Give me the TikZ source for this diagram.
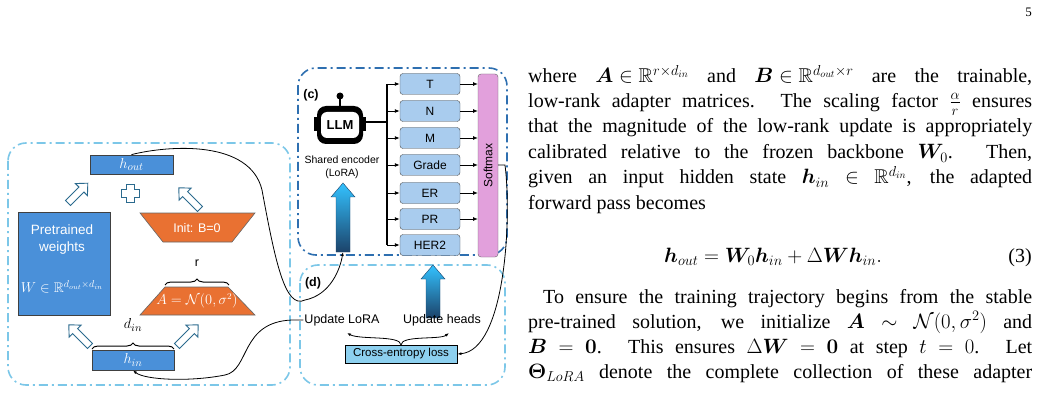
\documentclass[tikz,border=0pt]{standalone}
\usepackage{amsmath,amssymb,bm}
\usepackage{fontspec}
\setmainfont{Liberation Serif}
\newfontfamily\dsans{Liberation Sans}
\usetikzlibrary{decorations.pathreplacing,arrows.meta,shapes.geometric}
\definecolor{lb}{HTML}{7CC7E8}
\definecolor{db}{HTML}{2E6FB0}
\definecolor{bb}{HTML}{4A90D9}
\definecolor{orng}{HTML}{E97132}
\definecolor{head}{HTML}{A9CCEE}
\definecolor{pink}{HTML}{E2A0DC}
\definecolor{ce}{HTML}{8DD0EF}
\definecolor{hol}{HTML}{2B6A8E}
\tikzset{
 dd/.style={line width=1.6pt,dash pattern=on 9pt off 4pt on 2pt off 4pt,rounded corners=18pt},
 blk/.style={draw=black!75,fill=bb,line width=0.8pt,text=white,font=\dsans},
 hd/.style={draw=black!70,fill=head,rounded corners=3pt,minimum width=60pt,minimum height=21pt,font=\dsans\fontsize{12}{12}\selectfont,inner sep=0pt},
 ar/.style={-{Latex[length=5pt,width=4pt]},line width=0.9pt},
 hollow/.style={draw=hol,fill=white,line width=0.9pt},
 txt/.style={anchor=base west,inner sep=0pt,font=\fontsize{20}{22}\selectfont},
 lab/.style={font=\dsans\fontsize{12.5}{13}\selectfont,inner sep=1pt},
}
\newcommand{\hollowarrow}[3]{% start, canvas angle, length
 \begin{scope}[shift={#1},rotate=#2]
 \path[hollow] (0,-3.5) -- (#3-9,-3.5) -- (#3-9,-8.5) -- (#3,0) -- (#3-9,8.5) -- (#3-9,3.5) -- (0,3.5) -- cycle;
 \end{scope}}
\newcommand{\gradarrow}[3]{% x, ybottom, ytop
 \shade[top color=cyan!70!blue!80,bottom color=db!60!black,draw=db!60!black,line width=0.4pt]
 (#1-7,#2) -- (#1-7,#3+14) -- (#1-12,#3+14) -- (#1,#3) -- (#1+12,#3+14) -- (#1+7,#3+14) -- (#1+7,#2) -- cycle;}
\newcommand{\tl}[2]{\node[txt] at (528,#1) {\makebox[504pt][s]{#2}};}
\newcommand{\mm}[1]{\mbox{$#1$}}
\begin{document}
\begin{tikzpicture}[x=1pt,y=-1pt]
\useasboundingbox (0,0) rectangle (1042,401);
% ---------- left panel ----------
\draw[dd,lb] (8,143) rectangle (290,385);
\node[blk,minimum width=83pt,minimum height=19pt,inner sep=0pt,font=\fontsize{15}{15}\selectfont] (hout) at (131.5,164.5) {$h_{out}$};
\path[hollow] (126,184) -- (134,184) -- (134,189) -- (139,189) -- (139,197) -- (134,197) -- (134,202) -- (126,202) -- (126,197) -- (121,197) -- (121,189) -- (126,189) -- cycle;
\hollowarrow{(68,203)}{45}{28}
\hollowarrow{(200,209)}{135}{30}
\node[blk,minimum width=92pt,minimum height=103pt,align=center] (pw) at (64,263.5) {};
\node[text=white,font=\dsans\fontsize{13.5}{17}\selectfont,align=center] at (62,240) {Pretrained\\weights};
\node[text=white,font=\fontsize{14}{14}\selectfont] at (62,287) {$W\in\mathbb{R}^{d_{out}\times d_{in}}$};
\path[draw=black!60,fill=orng,line width=0.6pt] (140,213) -- (255,213) -- (232,242) -- (163,242) -- cycle;
\node[text=white,font=\dsans\fontsize{12.5}{12}\selectfont] (initb) at (197,228) {Init: B=0};
\path[draw=black!60,fill=orng,line width=0.6pt] (165,287) -- (228,287) -- (255,315) -- (140,315) -- cycle;
\node[text=white,font=\fontsize{13.5}{13}\selectfont] (amat) at (197,301) {$A=\mathcal{N}(0,\sigma^2)$};
\draw[line width=1pt,decorate,decoration={brace,amplitude=6pt}] (165,285) -- (229,285);
\node[font=\dsans\fontsize{12.5}{12}\selectfont] at (197,263) {r};
\node[blk,minimum width=82pt,minimum height=20pt,inner sep=0pt,font=\fontsize{15}{15}\selectfont] (hin) at (133,360) {$h_{in}$};
\draw[line width=1pt,decorate,decoration={brace,amplitude=6pt}] (92,349) -- (174,349);
\node[font=\fontsize{15}{15}\selectfont] at (133,325) {$d_{in}$};
\hollowarrow{(90,346)}{135}{30}
\hollowarrow{(177,346)}{45}{30}
% ---------- panels c,d ----------
\draw[dd,db] (298,68) rectangle (507,255);
\draw[dd,lb] (300,265) rectangle (505,385);
\node[font=\dsans\bfseries\fontsize{12.5}{12}\selectfont] at (311,95) {(c)};
\node[font=\dsans\bfseries\fontsize{12.5}{12}\selectfont] at (313,283) {(d)};
% LLM icon
\draw[line width=2pt] (340,98) -- (340,107);
\fill (340,96) circle (3.5);
\fill[rounded corners=9pt] (317,106) rectangle (363,144);
\fill (314,117) rectangle (318,131);
\fill (362,117) rectangle (366,131);
\fill[white,rounded corners=6pt] (321,112) rectangle (359,138);
\node[font=\dsans\bfseries\fontsize{13}{13}\selectfont,inner sep=0pt] (llm) at (340,125) {LLM};
\coordinate (llmr) at (366,122);
\node[font=\dsans\fontsize{10.5}{13}\selectfont,align=center] (enc) at (342,167) {Shared encoder\\(LoRA)};
\gradarrow{343}{252}{183}
\coordinate (encbot) at (343,252);
% heads
\foreach \n/\t/\y in {T/T/84,N/N/111,M/M/138,G/Grade/165,E/ER/193,P/PR/219,H/HER2/245}{
 \node[hd] (\n) at (430,\y) {\t};
 \draw[ar] (387,\y) -- (\n.west);
}
\node[draw=black!60,fill=pink,rounded corners=3pt,minimum width=20pt,minimum height=183pt,inner sep=0pt] (soft) at (488,165.5) {};
\node[rotate=90,font=\dsans\fontsize{12}{12}\selectfont] at (soft.center) {Softmax};
\foreach \n/\y in {T/84,N/111,M/138,G/165,E/193,P/219}{
 \draw[ar] (\n.east) -- (478,\y);
}
\draw[line width=1.2pt] (llmr) -- (387,122);
\draw[line width=1.2pt] (387,84) -- (387,245);
% panel d
\gradarrow{433}{318}{265}
\node[lab] (ulora) at (342,320) {Update LoRA};
\node[lab] (uheads) at (442,320) {Update heads};
\node[draw=black,fill=ce,line width=0.8pt,minimum width=112pt,minimum height=18pt,inner sep=0pt,font=\dsans\fontsize{11.5}{12}\selectfont] (cel) at (401,354) {Cross-entropy loss};
\draw[-{Latex[length=4pt,width=3pt]},line width=0.8pt] (401,345) .. controls (401,335) and (360,340) .. (347,333);
\draw[-{Latex[length=4pt,width=3pt]},line width=0.8pt] (401,345) .. controls (401,335) and (440,340) .. (449,333);
\draw[-{Latex[length=4pt,width=3pt]},line width=0.8pt] (498,165) -- (505,165) .. controls (512,220) and (505,350) .. (cel.east);
% connectors left
\draw[-{Latex[length=4pt,width=3pt]},line width=0.8pt] (hout.north) .. controls (170,145) and (250,140) .. (262,190) .. controls (275,260) and (285,310) .. (305,300) .. controls (330,295) and (340,270) .. (encbot);
\draw[-{Latex[length=4pt,width=3pt]},line width=0.8pt] (ulora.west) -- (292,320) .. controls (240,322) and (250,370) .. (225,375) .. controls (190,382) and (145,380) .. (hin.south);
% ---------- right text ----------
\node[anchor=base east,inner sep=0pt,font=\fontsize{13}{13}\selectfont] at (1032,17) {5};
\tl{83}{where \mm{\bm{A}\in\mathbb{R}^{r\times d_{in}}} and \mm{\bm{B}\in\mathbb{R}^{d_{out}\times r}} are the trainable,}
\tl{108}{low-rank adapter matrices. The scaling factor \mm{\frac{\alpha}{r}} ensures}
\tl{133}{that the magnitude of the low-rank update is appropriately}
\tl{159}{calibrated relative to the frozen backbone \mm{\bm{W}_0}. Then,}
\tl{184}{given an input hidden state \mm{\bm{h}_{in}} \mm{\in} \mm{\mathbb{R}^{d_{in}}}, the adapted}
\node[txt] at (528,210) {forward pass becomes};
\node[txt] at (664,262) {$\bm{h}_{out}=\bm{W}_0\bm{h}_{in}+\Delta\bm{W}\bm{h}_{in}.$};
\node[anchor=base east,inner sep=0pt,font=\fontsize{20}{22}\selectfont] at (1032,262) {(3)};
\node[txt] at (543,303) {\makebox[489pt][s]{To ensure the training trajectory begins from the stable}};
\tl{328}{pre-trained solution, we initialize \mm{\bm{A}} \mm{\sim} \mm{\mathcal{N}(0,\sigma^2)} and}
\tl{353}{\mm{\bm{B}} \mm{=} \mm{\bm{0}}. This ensures \mm{\Delta\bm{W}} \mm{=} \mm{\bm{0}} at step \mm{t} \mm{=} \mm{0}. Let}
\tl{378}{\mm{\bm{\Theta}_{LoRA}} denote the complete collection of these adapter}
\end{tikzpicture}
\end{document}
